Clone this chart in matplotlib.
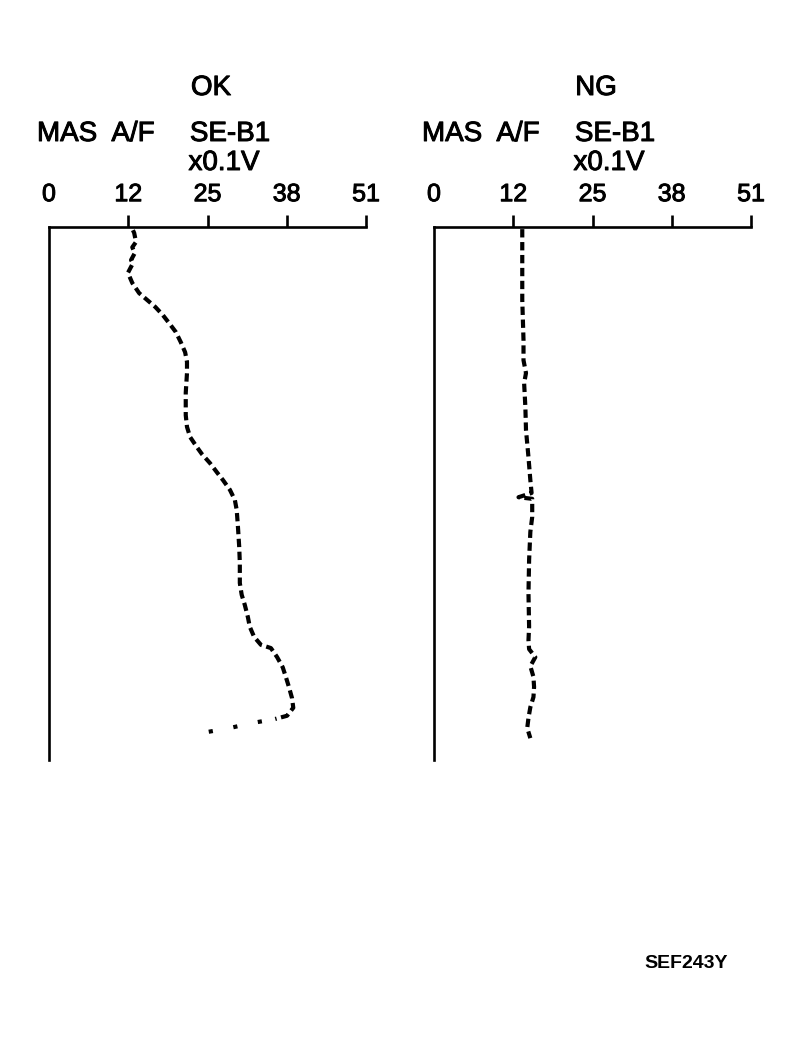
import matplotlib.pyplot as plt
import matplotlib.patheffects as pe

plt.rcParams['font.family'] = ['Liberation Sans', 'DejaVu Sans']

# voltage axis (x0.1V), 0-5.1V split in quarters
tick_pos = [0, 12.75, 25.5, 38.25, 51]
tick_labels = ['0', '12', '25', '38', '51']

# time runs downwards, 0..100 over the axis height
ok_volt = [13.5, 13.7, 14.0, 13.4, 13.8, 13.2, 13.5, 12.7, 13.4, 14.5, 15.8, 17.1,
           18.3, 19.3, 20.4, 21.2, 21.9, 22.2, 22.2, 22.0, 22.0, 22.2, 22.7, 23.8,
           24.6, 25.9, 27.0, 28.0, 29.1, 29.9, 30.2, 30.4, 30.6, 30.7, 30.7, 31.0,
           31.5, 32.0, 32.3, 33.0, 34.1, 35.7, 36.7, 37.6, 38.1, 38.6, 39.1, 39.3,
           38.3, 36.4]
ok_time = [0.6, 1.1, 2.8, 3.8, 4.9, 6.2, 6.8, 8.6, 10.5, 12.4, 13.7, 15.0,
           16.5, 18.0, 19.7, 21.6, 23.5, 25.3, 27.4, 31.1, 35.3, 37.5, 39.4, 41.3,
           42.6, 44.3, 46.0, 47.5, 49.3, 51.2, 53.1, 56.3, 60.0, 63.0, 66.8, 69.0,
           70.9, 73.2, 75.0, 76.9, 78.4, 79.0, 80.7, 82.6, 84.4, 86.3, 88.4, 90.2,
           91.7, 92.3]
# fast drop at the end, only a few dots printed (listed from the last sample back)
ok_tail_volt = [25.7, 29.1, 32.5, 36.4]
ok_tail_time = [94.7, 94.0, 93.1, 92.3]

ng_volt = [14.2, 14.2, 14.4, 14.4, 14.8, 14.5, 14.7, 14.8, 15.2, 15.5, 15.7, 13.6,
           15.8, 15.8, 15.5, 15.3, 15.2, 15.3, 15.2, 15.3, 16.3, 15.5, 16.0, 16.1,
           16.0, 15.5, 15.2, 15.0, 15.5]
ng_time = [0.4, 13.7, 21.2, 25.0, 27.4, 29.3, 33.8, 38.1, 43.2, 47.5, 49.9, 50.7,
           51.0, 54.4, 57.2, 62.5, 68.7, 75.0, 77.5, 79.2, 80.7, 82.4, 84.4, 86.3,
           88.2, 90.1, 92.1, 94.0, 95.9]

W, H = 796, 1046
fig = plt.figure(figsize=(W / 100, H / 100), dpi=100)
heavy = [pe.withStroke(linewidth=0.7, foreground='black')]


def panel(left, title, volt, time):
    ax = fig.add_axes([left / W, 1 - 760 / H, 317 / W, 533 / H])
    ax.plot(volt, time, color='black', lw=3, linestyle=(0, (2, 1.1)))
    ax.set_xlim(0, 51)
    ax.set_ylim(100, 0)
    for s in ['bottom', 'right']:
        ax.spines[s].set_visible(False)
    for s in ['top', 'left']:
        ax.spines[s].set_linewidth(1.9)
    ax.set_yticks([])
    ax.xaxis.tick_top()
    ax.set_xticks(tick_pos)
    ax.set_xticklabels(tick_labels, fontsize=18)
    for t in ax.get_xticklabels():
        t.set_path_effects(heavy)
    ax.tick_params(axis='x', direction='out', length=9, width=1.9, pad=6)
    ax.xaxis.get_major_ticks()[0].tick2line.set_visible(False)
    ax.patch.set_alpha(0)

    def put(px, py, s):
        fig.text((left - 49 + px) / W, 1 - py / H, s, fontsize=20,
                 ha='center', va='center', path_effects=heavy)

    put(211, 88, title)
    put(67, 134, 'MAS')
    put(133, 134, 'A/F')
    put(230, 134, 'SE-B1')
    put(224, 163, 'x0.1V')
    return ax


ax1 = panel(49, 'OK', ok_volt, ok_time)
ax1.plot(ok_tail_volt, ok_tail_time, color='black', lw=3, linestyle=(0, (1, 5)))
panel(434, 'NG', ng_volt, ng_time)

fig.text(686 / W, 1 - 963 / H, 'SEF243Y', fontsize=14, fontweight='bold',
         ha='center', va='center')

fig.savefig('out.png', dpi=100)
